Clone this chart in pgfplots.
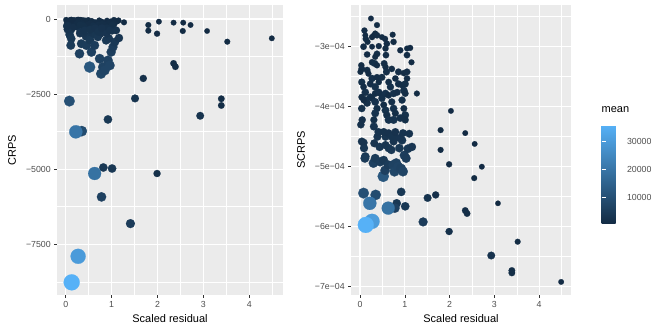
\documentclass[border=0pt]{standalone}
\usepackage{pgfplots}
\pgfplotsset{compat=1.18}
\usepackage{pgfplotstable}
\usepackage{fontspec}
\setmainfont{Liberation Sans}
\definecolor{panelbg}{HTML}{EBEBEB}
\definecolor{ticklab}{HTML}{4D4D4D}
\definecolor{tickcol}{HTML}{333333}
\pgfplotsset{colormap={gg}{rgb255=(19,43,67) rgb255=(86,177,247)}}
\pgfplotstableread{
x crps scrps mk
0.245 -30 -2.53 0.5
0.38 -45 -2.64 0.6
0.10 -60 -2.73 0.7
0.12 -20 -2.81 0.5
0.13 -90 -2.87 0.8
0.17 -40 -2.92 0.6
0.27 -70 -2.84 0.7
0.31 -25 -2.81 0.5
0.34 -55 -2.78 0.6
0.38 -110 -2.81 0.9
0.49 -35 -2.84 0.55
0.56 -80 -2.87 0.7
0.60 -130 -2.95 0.9
0.73 -50 -2.80 0.6
0.75 -95 -2.92 0.8
0.08 -150 -3.00 1.0
0.27 -20 -3.00 0.5
0.42 -65 -2.99 0.7
0.16 -120 -3.13 0.9
0.38 -180 -3.12 1.1
0.34 -40 -3.17 0.6
0.57 -100 -3.03 0.8
0.58 -160 -3.14 1.0
0.90 -60 -3.06 0.7
1.05 -30 -3.03 0.55
1.12 -75 -3.02 0.7
1.05 -140 -3.14 1.0
1.15 -50 -3.26 0.6
0.03 -90 -3.31 0.8
0.04 -200 -3.37 1.3
0.01 -30 -3.42 0.6
0.27 -110 -3.26 0.9
0.33 -230 -3.28 1.4
0.38 -70 -3.31 0.7
0.16 -160 -3.39 1.1
0.19 -50 -3.45 0.7
0.54 -190 -3.28 1.2
0.57 -80 -3.34 0.8
0.59 -250 -3.42 1.5
0.71 -120 -3.37 0.9
0.86 -200 -3.42 1.3
0.98 -90 -3.44 0.8
1.05 -170 -3.42 1.2
0.27 -280 -3.53 1.7
0.38 -130 -3.51 1.0
0.42 -60 -3.59 0.8
0.49 -210 -3.51 1.4
0.04 -240 -3.59 1.6
0.08 -120 -3.67 1.0
0.12 -310 -3.76 1.9
0.23 -180 -3.62 1.3
0.34 -330 -3.67 2.0
0.64 -150 -3.59 1.1
0.68 -270 -3.67 1.7
0.79 -100 -3.53 0.9
0.86 -230 -3.62 1.5
0.94 -140 -3.64 1.1
1.01 -260 -3.62 1.6
1.05 -110 -3.53 0.9
0.04 -160 -3.84 1.2
0.12 -360 -3.89 2.2
0.23 -250 -3.84 1.7
0.34 -140 -3.78 1.1
0.42 -290 -3.76 1.8
0.49 -190 -3.81 1.4
0.57 -350 -3.78 2.1
0.64 -120 -3.81 1.0
0.75 -300 -3.78 1.9
0.83 -180 -3.76 1.3
0.98 -320 -3.73 2.0
1.01 -150 -3.78 1.2
0.16 -280 -3.94 1.8
0.27 -120 -3.86 1.1
0.34 -380 -3.92 2.3
0.38 -220 -4.03 1.6
0.34 -420 -4.11 2.5
0.49 -260 -3.86 1.7
0.53 -150 -3.97 1.2
0.57 -400 -4.06 2.4
0.60 -230 -4.14 1.7
0.64 -450 -4.22 2.6
0.71 -200 -3.92 1.5
0.75 -330 -4.03 2.1
0.79 -170 -4.11 1.4
0.75 -500 -4.22 2.8
0.94 -250 -3.89 1.7
0.98 -140 -4.03 1.2
1.01 -390 -4.14 2.4
1.01 -210 -4.22 1.6
0.90 -300 -4.19 2.0
0.31 -200 -4.22 1.6
0.31 -480 -4.33 2.8
0.04 -280 -4.03 1.9
0.08 -50 -3.89 0.7
0.57 -520 -4.50 3.0
0.08 -510 -4.60 3.0
0.09 -544 -4.69 3.3
0.12 -656 -4.83 3.8
0.11 -878 -4.86 4.5
0.30 -1156 -4.94 6.0
0.34 -822 -4.86 4.5
0.32 -433 -4.61 2.8
0.45 -878 -4.92 5.0
0.44 -578 -4.67 3.5
0.39 -467 -4.50 2.8
0.52 -1600 -5.16 12
0.56 -1100 -5.06 6.0
0.53 -700 -4.89 4.0
0.57 -450 -4.64 3.0
0.63 -878 -4.97 5.0
0.64 -500 -4.69 3.2
0.74 -1322 -4.97 6.5
0.70 -600 -4.72 3.6
0.75 -400 -4.58 2.8
0.77 -1822 -5.08 7.5
0.81 -1600 -4.94 6.5
0.78 -433 -4.50 2.8
0.85 -1711 -5.00 7.0
0.88 -711 -4.69 3.8
0.92 -1378 -5.03 6.5
0.96 -1544 -5.08 7.0
0.94 -650 -4.56 3.5
0.99 -1100 -4.81 5.5
1.03 -933 -4.86 5.0
1.07 -767 -4.70 4.2
1.16 -633 -4.67 3.4
0.41 -378 -4.42 2.5
1.10 -378 -4.45 2.5
0.53 -350 -4.42 2.4
0.64 -300 -4.44 2.3
0.71 -420 -4.50 2.7
0.79 -300 -4.42 2.3
0.89 -480 -4.52 2.9
0.96 -380 -4.44 2.6
0.04 -350 -4.58 2.6
0.05 -211 -4.22 1.8
0.02 -233 -4.30 1.9
1.27 -111 -3.78 0.6
1.80 -200 -4.39 0.6
1.80 -389 -4.72 0.6
2.03 -89 -4.07 0.5
1.99 -489 -4.96 0.7
2.35 -122 -4.44 0.5
2.56 -122 -4.62 0.5
2.55 -400 -5.19 0.6
2.72 -200 -5.00 0.5
3.08 -400 -5.61 0.45
3.52 -756 -6.25 0.6
4.49 -644 -6.92 0.5
3.39 -2656 -6.73 1.1
3.39 -2878 -6.77 1.1
2.93 -3222 -6.48 2.5
2.35 -1478 -5.73 1.1
2.39 -1589 -5.78 1.1
1.69 -1978 -5.47 1.7
1.51 -2644 -5.52 2.7
1.99 -5144 -6.08 1.7
0.92 -3344 -5.42 3.8
0.82 -4944 -5.61 3.8
1.01 -4978 -5.66 3.8
0.78 -5922 -5.69 6
1.41 -6811 -5.92 5
0.35 -3733 -5.47 9
0.08 -2733 -5.44 10
0.22 -3756 -5.61 20
0.63 -5144 -5.69 19
0.27 -7900 -5.91 30
0.13 -8767 -5.97 36
}\crpsdata
\pgfplotsset{
  gg/.style={
    scale only axis, anchor=south west,
    axis background/.style={fill=panelbg},
    axis line style={draw=none},
    grid=both,
    major grid style={white, line width=1.07bp},
    minor grid style={white, line width=0.53bp},
    tick pos=left,
    tick style={tickcol, line width=0.5bp},
    tick align=outside, major tick length=2.75bp, minor tick length=0bp,
    tick label style={font=\fontsize{8.8bp}{10bp}\selectfont, text=ticklab},
    label style={font=\fontsize{11bp}{13bp}\selectfont, text=black},
    xtick={0,1,2,3,4}, xticklabels={0,1,2,3,4},
    minor xtick={0.5,1.5,2.5,3.5,4.5},
    xlabel={Scaled residual},
    xlabel style={at={(axis description cs:0.5,-0.080)}, anchor=center},
    colormap name=gg, point meta min=0.4, point meta max=36,
    clip=true,
  },
  ggpts/.style={
    scatter, only marks, mark=*, point meta=explicit,
    scatter/use mapped color={draw=mapped color, fill=mapped color},
    mark options={line width=0.2bp},
    visualization depends on={2.5+5.5*sqrt((\thisrow{mk}-0.4)/35.6) \as \rad},
    scatter/@pre marker code/.append style={/tikz/mark size=\rad},
  },
}
\begin{document}
\begin{tikzpicture}
\path[use as bounding box] (0,0) rectangle (664bp,332bp);
\begin{axis}[gg, at={(57bp,37bp)}, width=226bp, height=290bp,
  xmin=-0.19, xmax=4.734, ymin=-9188, ymax=466,
  ytick={-7500,-5000,-2500,0}, yticklabels={−7500,−5000,−2500,0},
  minor ytick={-8750,-6250,-3750,-1250},
  ylabel={CRPS},
  ylabel style={at={(axis description cs:-0.199,0.5)}, anchor=center}]
\addplot[ggpts] table[x=x, y=crps, meta=mk]{\crpsdata};
\end{axis}
\begin{axis}[gg, at={(351bp,37bp)}, width=220bp, height=290bp,
  xmin=-0.2, xmax=4.71, ymin=-7.138, ymax=-2.305,
  ytick={-7,-6,-5,-4,-3}, yticklabels={−7e−04,−6e−04,−5e−04,−4e−04,−3e−04},
  minor ytick={-6.5,-5.5,-4.5,-3.5,-2.5},
  ylabel={SCRPS},
  ylabel style={at={(axis description cs:-0.227,0.5)}, anchor=center},
  colorbar,
  colorbar style={
    at={(parent axis.south east)}, anchor=south west, xshift=22bp, yshift=71bp,
    scale only axis, width=20bp, height=99bp,
    axis line style={draw=none},
    ytick={10,20,30}, yticklabels={10000,20000,30000},
    ytick pos=both, yticklabel pos=right,
    tick align=inside, major tick length=4bp,
    ytick style={white, line width=0.5bp},
    yticklabel style={font=\fontsize{8.8bp}{10bp}\selectfont, text=ticklab, xshift=2bp},
    title={mean},
    title style={at={(0,1)}, anchor=south west, inner sep=0pt, yshift=6bp, font=\fontsize{11bp}{13bp}\selectfont},
  }]
\addplot[ggpts] table[x=x, y=scrps, meta=mk]{\crpsdata};
\end{axis}
\end{tikzpicture}
\end{document}
